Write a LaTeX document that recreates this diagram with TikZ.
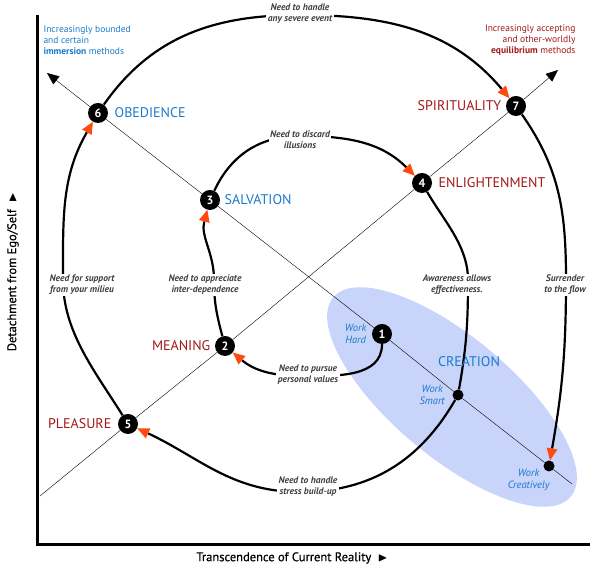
\documentclass[tikz,border=0pt]{standalone}
\usepackage{fontspec}
\setmainfont{PT Sans}
\usepackage{amssymb}
\usetikzlibrary{shapes, arrows.meta, positioning, calc}
\definecolor{stageblue}{HTML}{1A7ACC}
\definecolor{stagered}{HTML}{A01818}
\definecolor{flowred}{HTML}{FF4A10}
\definecolor{zonefill}{HTML}{C8D4FA}

\begin{document}
\begin{tikzpicture}[
    x=1pt, y=1pt,
    >=Stealth,
    stage/.style={circle, fill=black, text=white, inner sep=0pt, minimum size=20pt, font=\bfseries\fontsize{12}{12}\selectfont},
    dot/.style={circle, fill=black, inner sep=0pt, minimum size=11pt},
    need/.style={fill=white, inner sep=1.5pt, align=center, text=black!75, font=\itshape\bfseries\fontsize{9.5}{11}\selectfont},
    blue name/.style={text=stageblue, font=\fontsize{14}{14}\selectfont},
    red name/.style={text=stagered, font=\fontsize{14}{14}\selectfont},
    work/.style={text=stageblue, align=center, font=\itshape\fontsize{10.5}{11.5}\selectfont},
    flow/.style={line width=2.2pt},
    advance/.style={flow, -{Triangle[color=flowred, length=12pt, width=11pt, line width=0pt]}},
    axis/.style={line width=3pt},
]
\useasboundingbox (0,0) rectangle (600,572);

% Creation zone
\fill[zonefill] (452,175) ellipse [x radius=155, y radius=60, rotate=-40];

% Axes
\coordinate (origin) at (37,27);
\coordinate (ytop) at (37,557);
\coordinate (xend) at (590,27);
\draw[axis] (ytop) -- (origin) -- (xend);
\node (xlabel) at (292,14) {\fontsize{12.5}{13}\selectfont\addfontfeatures{FakeBold=0.6}Transcendence of Current Reality~~$\blacktriangleright$};
\node (ylabel) at (13,300) [rotate=90] {\fontsize{12.5}{13}\selectfont\addfontfeatures{FakeBold=0.6}Detachment from Ego/Self~~$\blacktriangleright$};

% Stages
\node (s6) at (98,459) [stage] {6};
\node (s3) at (210,372) [stage] {3};
\node (s1) at (382,238) [stage] {1};
\node (s7) at (516,466) [stage] {7};
\node (s4) at (422,389) [stage] {4};
\node (s2) at (225,226) [stage] {2};
\node (s5) at (128,148) [stage] {5};
\node (smart) at (458,177) [dot] {};
\node (creative) at (549,106) [dot] {};

% Diagonals
\coordinate (lowA) at (40,76);
\coordinate (topA) at (558,502);
\coordinate (topB) at (47,499);
\coordinate (lowB) at (572,88);
\draw[thin, -{Triangle[length=12pt, width=10pt]}] (lowA) -- (s5) -- (s2) -- (s4) -- (s7) -- (topA);
\draw[thin, -{Triangle[length=12pt, width=10pt]}] (lowB) -- (creative) -- (smart) -- (s1) -- (s3) -- (s6) -- (topB);

% Label places
\coordinate (n12) at (302,196);
\coordinate (n23) at (214,292);
\coordinate (n34) at (300,436);
\coordinate (n4s) at (468,292);
\coordinate (ns5) at (300,80);
\coordinate (n56) at (63,292);
\coordinate (n67) at (300,557);
\coordinate (n7c) at (566,292);

% Spiral
\draw[flow] (s1) to[out=-90, in=0] (n12);
\draw[advance] (n12) to[out=180, in=-40] (s2);
\draw[flow] (s2) to[out=105, in=-90] (n23);
\draw[advance] (n23) to[out=90, in=-105] (s3);
\draw[flow] (s3) to[out=65, in=180] (n34);
\draw[advance] (n34) to[out=0, in=135] (s4);
\draw[flow] (s4) to[out=-60, in=90, looseness=0.9] (n4s);
\draw[flow] (n4s) to[out=-90, in=80] (smart);
\draw[flow] (smart) to[out=-120, in=0] (ns5);
\draw[advance] (ns5) to[out=180, in=-25] (s5);
\draw[flow] (s5) to[out=122, in=-90, looseness=0.9] (n56);
\draw[advance] (n56) to[out=90, in=-120] (s6);
\draw[flow] (s6) to[out=55, in=180] (n67);
\draw[advance] (n67) to[out=0, in=130] (s7);
\draw[flow] (s7) to[out=-55, in=90] (n7c);
\draw[advance] (n7c) to[out=-90, in=80] (creative);

% Needs
\node (t12) at (308,197) [need] {Need to pursue\\personal values};
\node (t23) at (205,287) [need] {Need to appreciate\\inter-dependence};
\node (t34) at (300,432) [need] {Need to discard\\illusions};
\node (t4s) at (457,287) [need] {Awareness allows\\effectiveness.};
\node (ts5) at (308,85) [need] {Need to handle\\stress build-up};
\node (t56) at (82,287) [need] {Need for support\\from your milieu};
\node (t67) at (300,558) [need] {Need to handle\\any severe event};
\node (t7c) at (565,287) [need] {Surrender\\to the flow};

% Names
\node (obedience) [blue name, right=3pt of s6] {OBEDIENCE};
\node (salvation) [blue name, right=1pt of s3] {SALVATION};
\node (enlighten) [red name, right=3pt of s4] {ENLIGHTENMENT};
\node (spirit) [red name, left=1pt of s7] {SPIRITUALITY};
\node (meaning) [red name, left=1pt of s2] {MEANING};
\node (pleasure) [red name, left=3pt of s5] {PLEASURE};
\node (creation) at (469,210) [blue name] {CREATION};
\node (hard) [work, left=2pt of s1] {Work\\Hard};
\node (smartlbl) [work, left=4pt of smart] {Work\\Smart};
\node (creativelbl) [work, below left=-4pt and -8pt of creative] {Work\\Creatively};

% Corners
\node (bounded) at (40,532) [anchor=west, align=left, text=stageblue, font=\fontsize{9.5}{11}\selectfont] {Increasingly bounded\\and certain\\\textbf{immersion} methods};
\node (accepting) at (579,532) [anchor=east, align=right, text=stagered, font=\fontsize{9.5}{11}\selectfont] {Increasingly accepting\\and other-worldly\\\textbf{equilibrium} methods};
\end{tikzpicture}
\end{document}
